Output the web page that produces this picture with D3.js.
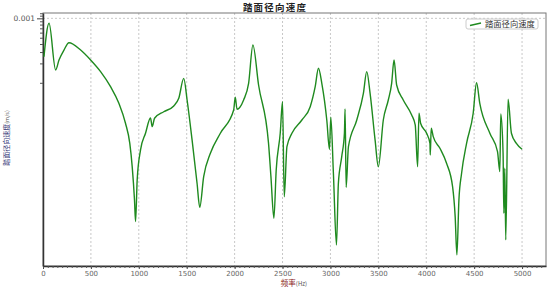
<!DOCTYPE html>
<html>
<head>
<meta charset="utf-8">
<script src="https://cdn.jsdelivr.net/npm/d3@7"></script>
<style>
  body { margin: 0; background: #fff; }
  svg { display: block; }
</style>
</head>
<body>
<div id="chart"></div>
<script>
// frequency response of tread radial velocity
const freqs = [10, 63, 132, 167, 219, 271, 393, 497, 601, 705, 792, 861, 906, 931, 955, 966,
  983, 1018, 1070, 1122, 1140, 1164, 1260, 1365, 1417, 1469, 1504, 1556, 1608, 1636,
  1677, 1747, 1851, 1990, 2007, 2025, 2094, 2146, 2191, 2250, 2354, 2379, 2410,
  2434, 2476, 2500, 2518, 2546, 2598, 2702, 2789, 2841, 2875, 2910, 2962, 2990, 3004,
  3031, 3063, 3083, 3118, 3146, 3153, 3164, 3188, 3275, 3344, 3379, 3414, 3466, 3500,
  3552, 3604, 3639, 3664, 3691, 3760, 3848, 3885, 3910, 3924, 3941, 4004, 4039, 4042,
  4052, 4073, 4143, 4212, 4275, 4302, 4320, 4341, 4369, 4421, 4490, 4525, 4559, 4664,
  4744, 4768, 4778, 4802, 4810, 4820, 4830, 4854, 4889, 4941, 5000];
const velocity = [2.54e-4, 8.37e-4, 1.58e-4, 2.26e-4, 3.22e-4, 4.19e-4, 3.22e-4, 2.26e-4, 1.49e-4, 8.70e-5,
  4.81e-5, 2.36e-5, 1.15e-5, 5.0e-6, 1.52e-6, 7.03e-7,
  3.11e-6, 9.08e-6, 1.65e-5, 2.85e-5, 2.09e-5, 2.82e-5, 3.56e-5, 4.37e-5, 5.75e-5, 1.17e-4,
  5.41e-5, 1.30e-5, 2.77e-6, 1.17e-6,
  3.50e-6, 8.07e-6, 1.65e-5, 3.79e-5, 5.96e-5, 3.88e-5, 5.41e-5, 9.82e-5, 3.85e-4, 9.25e-5,
  1.15e-5, 3.50e-6, 7.93e-7,
  4.45e-6, 1.65e-5, 5.09e-5, 1.71e-6, 1.02e-5, 1.65e-5, 2.65e-5, 4.26e-5, 8.70e-5, 1.68e-4,
  9.82e-5, 2.65e-5, 9.31e-6, 2.92e-5,
  3.95e-6, 3.05e-7, 2.77e-6, 7.15e-6, 1.65e-5, 3.93e-5, 2.40e-6, 1.02e-5, 2.65e-5, 6.87e-5,
  1.49e-4, 6.87e-5, 1.30e-5, 5.0e-6,
  2.65e-5, 5.41e-5, 9.82e-5, 2.26e-4, 9.25e-5, 5.41e-5, 3.17e-5, 2.22e-5, 5.0e-6, 3.37e-5,
  2.36e-5, 1.65e-5, 1.15e-5, 7.60e-6,
  1.97e-5, 1.46e-5, 9.64e-6, 5.65e-6, 2.45e-6, 8.40e-7, 2.14e-7, 1.52e-6, 3.95e-6, 1.15e-5,
  3.37e-5, 1.00e-4, 4.81e-5, 1.65e-5,
  8.55e-6, 4.19e-6, 3.28e-5, 8.07e-6, 9.48e-7, 4.72e-6, 3.66e-7, 5.55e-5, 1.65e-5, 1.15e-5, 9.31e-6];

const xTicks = [0, 500, 1000, 1500, 2000, 2500, 3000, 3500, 4000, 4500, 5000];
const yMinorTicks = [0.0012, 0.0011, 0.0009, 0.0008, 0.0007, 0.0006, 0.0005, 0.0004, 0.0003, 0.0002, 0.0001];
const yTicks = [0.001];

const title = '踏面径向速度';
const seriesName = '踏面径向速度';

const width = 549, height = 287;
const margin = {top: 13, right: 3, bottom: 21, left: 43};

const svg = d3.select('#chart').append('svg')
  .attr('width', width)
  .attr('height', height);

const x = d3.scaleLinear().domain([0, 5250]).range([margin.left, width - margin.right]);
const y = d3.scaleLog().domain([1.44e-7, 1.21e-3]).range([height - margin.bottom, margin.top]);

const font = '"DejaVu Sans", sans-serif';
const cjk = '"Noto Sans CJK SC", sans-serif';

// grid
svg.append('g')
  .selectAll('line')
  .data(xTicks.filter(d => d > 0))
  .join('line')
  .attr('x1', d => x(d)).attr('x2', d => x(d))
  .attr('y1', margin.top).attr('y2', height - margin.bottom)
  .attr('stroke', '#c8c8c8')
  .attr('stroke-dasharray', '2,2');

svg.append('g')
  .selectAll('line')
  .data(yTicks)
  .join('line')
  .attr('x1', margin.left).attr('x2', width - margin.right)
  .attr('y1', d => y(d)).attr('y2', d => y(d))
  .attr('stroke', '#c8c8c8')
  .attr('stroke-dasharray', '2,2');

// frame
svg.append('rect')
  .attr('x', margin.left).attr('y', margin.top)
  .attr('width', width - margin.right - margin.left)
  .attr('height', height - margin.bottom - margin.top)
  .attr('fill', 'none')
  .attr('stroke', '#777');

// x axis
const xAxis = svg.append('g')
  .attr('transform', `translate(0,${height - margin.bottom})`)
  .call(d3.axisBottom(x).tickValues(xTicks).tickSize(3).tickSizeOuter(0).tickPadding(2)
    .tickFormat(d3.format('d')));
xAxis.select('.domain').attr('stroke', '#333').attr('stroke-width', 1.5);
xAxis.selectAll('.tick line').attr('stroke', '#444');
xAxis.selectAll('text').attr('font-family', font).attr('font-size', 7).attr('fill', '#666');

svg.append('g')
  .attr('transform', `translate(0,${height - margin.bottom})`)
  .call(d3.axisBottom(x).tickValues(d3.range(0, 5250, 50)).tickSize(2).tickFormat(''))
  .call(g => g.select('.domain').remove())
  .selectAll('.tick line').attr('stroke', '#555');

// y axis
const yAxis = svg.append('g')
  .attr('transform', `translate(${margin.left},0)`)
  .call(d3.axisLeft(y).tickValues(yTicks).tickSize(6).tickSizeOuter(0).tickPadding(2)
    .tickFormat(d3.format('.3f')));
yAxis.select('.domain').attr('stroke', '#333').attr('stroke-width', 1.5);
yAxis.selectAll('.tick line').attr('stroke', '#444');
yAxis.selectAll('text').attr('font-family', font).attr('font-size', 7.5).attr('fill', '#555');

svg.append('g')
  .attr('transform', `translate(${margin.left},0)`)
  .call(d3.axisLeft(y).tickValues(yMinorTicks).tickSize(3).tickFormat(''))
  .call(g => g.select('.domain').remove())
  .selectAll('.tick line').attr('stroke', '#555');

// curve
const points = freqs.map((f, i) => [f, velocity[i]]);
const line = d3.line()
  .x(d => x(d[0]))
  .y(d => y(d[1]))
  .curve(d3.curveMonotoneX);

svg.append('path')
  .datum(points)
  .attr('d', line)
  .attr('fill', 'none')
  .attr('stroke', '#1f8a1f')
  .attr('stroke-width', 1.4);

// title and labels
svg.append('text')
  .attr('x', 275).attr('y', 11)
  .attr('text-anchor', 'middle')
  .attr('font-family', cjk)
  .attr('font-weight', 'bold')
  .attr('font-size', 9.5)
  .attr('letter-spacing', 1.2)
  .attr('fill', '#222')
  .text(title);

const xLabel = svg.append('text')
  .attr('x', 294).attr('y', 286)
  .attr('text-anchor', 'middle')
  .attr('font-family', cjk)
  .attr('font-size', 7.5);
xLabel.append('tspan').attr('fill', '#8b1a1a').text('频率');
xLabel.append('tspan').attr('fill', '#555').attr('font-size', 6).text('(Hz)');

const yLabel = svg.append('text')
  .attr('transform', 'translate(9,138) rotate(-90)')
  .attr('text-anchor', 'middle')
  .attr('font-family', cjk)
  .attr('font-size', 7);
yLabel.append('tspan').attr('fill', '#3d3d7a').text('踏面径向速度');
yLabel.append('tspan').attr('fill', '#555').attr('font-size', 5.5).text('(m/s)');

// legend
const legend = svg.append('g').attr('transform', 'translate(466,19)');
legend.append('rect')
  .attr('width', 72).attr('height', 10)
  .attr('rx', 2)
  .attr('fill', '#fff')
  .attr('stroke', '#ccc');
legend.append('line')
  .attr('x1', 4).attr('x2', 15)
  .attr('y1', 6.5).attr('y2', 4)
  .attr('stroke', '#1f8a1f')
  .attr('stroke-width', 1.3);
legend.append('text')
  .attr('x', 19).attr('y', 8.3)
  .attr('font-family', cjk)
  .attr('font-size', 8.3)
  .attr('fill', '#333')
  .text(seriesName);
</script>
</body>
</html>
